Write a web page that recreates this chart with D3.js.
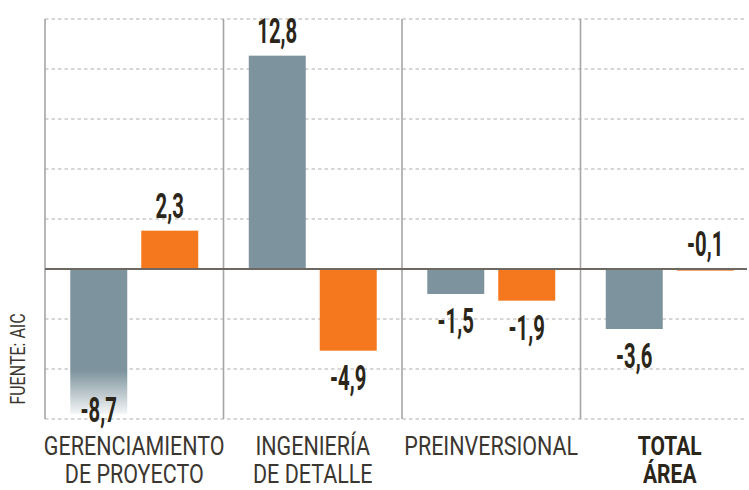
<!DOCTYPE html>
<html>
<head>
<meta charset="utf-8">
<script src="https://cdn.jsdelivr.net/npm/d3@7"></script>
<style>
body { margin: 0; background: #fff; }
</style>
</head>
<body>
<svg></svg>
<script>
const categories = ['GERENCIAMIENTO DE PROYECTO', 'INGENIERÍA DE DETALLE', 'PREINVERSIONAL', 'TOTAL ÁREA'];
const categoryLines = [['GERENCIAMIENTO', 'DE PROYECTO'], ['INGENIERÍA', 'DE DETALLE'], ['PREINVERSIONAL'], ['TOTAL', 'ÁREA']];
const seriesKeys = ['gris', 'naranja'];
const grayValues = [-8.7, 12.8, -1.5, -3.6];
const orangeValues = [2.3, -4.9, -1.9, -0.1];
const gridTicks = [-9, -6, -3, 3, 6, 9, 12, 15];
const source = 'FUENTE: AIC';

let width = 749;
let height = 490;

let xScale;
let innerScale;
let yScale;

let svg = d3.select('svg');

const colors = { gris: '#7d939d', naranja: '#f5781f' };

const rows = categories.map((c, i) => ({ cat: c, lines: categoryLines[i], gris: grayValues[i], naranja: orangeValues[i] }));

const drawCanvas = () => {
    svg.attr('width', width)
        .attr('height', height)
        .style('display', 'block');
}

const generateScales = () => {
    xScale = d3.scaleBand()
        .domain(categories)
        .range([45, 759]);

    innerScale = d3.scaleBand()
        .domain(seriesKeys)
        .range([0, xScale.bandwidth()])
        .paddingInner(0.197)
        .paddingOuter(0.356);

    yScale = d3.scaleLinear()
        .domain([-9, 15])
        .range([419, 19]);
}

const drawGrid = () => {
    svg.append('g')
        .selectAll('line')
        .data(gridTicks)
        .enter()
        .append('line')
        .attr('x1', 45)
        .attr('x2', width - 2)
        .attr('y1', d => yScale(d))
        .attr('y2', d => yScale(d))
        .attr('stroke', '#c9c9c9')
        .attr('stroke-width', 1.3)
        .attr('stroke-dasharray', '3.5,3');

    svg.append('g')
        .selectAll('line')
        .data(categories)
        .enter()
        .append('line')
        .attr('x1', d => xScale(d))
        .attr('x2', d => xScale(d))
        .attr('y1', yScale(15))
        .attr('y2', yScale(-9))
        .attr('stroke', '#a5a5a5')
        .attr('stroke-width', 1.6);
}

const drawBars = () => {
    // fade for the long gray bar at the bottom
    let grad = svg.append('defs')
        .append('linearGradient')
        .attr('id', 'fade')
        .attr('gradientUnits', 'userSpaceOnUse')
        .attr('x1', 0).attr('x2', 0)
        .attr('y1', yScale(-6.1))
        .attr('y2', yScale(-8.7));
    grad.append('stop').attr('offset', 0).attr('stop-color', colors.gris);
    grad.append('stop').attr('offset', 1).attr('stop-color', '#f4f6f7');

    let groups = svg.append('g')
        .selectAll('g')
        .data(rows)
        .enter()
        .append('g')
        .attr('transform', d => 'translate(' + xScale(d.cat) + ',0)');

    groups.selectAll('rect')
        .data(d => seriesKeys.map(k => ({ key: k, value: d[k] })))
        .enter()
        .append('rect')
        .attr('x', d => innerScale(d.key))
        .attr('width', innerScale.bandwidth())
        .attr('y', d => yScale(Math.max(0, d.value)))
        .attr('height', d => Math.abs(yScale(d.value) - yScale(0)))
        .attr('fill', d => d.key === 'gris' ? 'url(#fade)' : colors.naranja);

    svg.append('line')
        .attr('x1', 45)
        .attr('x2', width - 2)
        .attr('y1', yScale(0))
        .attr('y2', yScale(0))
        .attr('stroke', '#6d6862')
        .attr('stroke-width', 2);
}

const drawLabels = () => {
    let items = [];
    rows.forEach(r => {
        seriesKeys.forEach(k => items.push({ cat: r.cat, key: k, value: r[k] }));
    });

    svg.append('g')
        .selectAll('g')
        .data(items)
        .enter()
        .append('g')
        .attr('transform', d => {
            let cx = xScale(d.cat) + innerScale(d.key) + innerScale.bandwidth() / 2;
            let y;
            if (d.value > -0.5) {
                y = yScale(Math.max(0, d.value)) - 13;
            } else {
                y = Math.min(yScale(d.value) + 39, 422);
            }
            return 'translate(' + cx + ',' + y + ') scale(0.58,1)';
        })
        .append('text')
        .attr('text-anchor', 'middle')
        .attr('font-family', 'Roboto, sans-serif')
        .attr('font-weight', 'bold')
        .attr('font-size', 35)
        .attr('fill', '#2b2619')
        .text(d => d3.format('.1f')(d.value).replace('.', ',').replace('−', '-'));

    let cats = svg.append('g')
        .selectAll('g')
        .data(rows)
        .enter()
        .append('g')
        .attr('transform', d => 'translate(' + (xScale(d.cat) + xScale.bandwidth() / 2) + ',0)');

    cats.selectAll('g')
        .data(d => d.lines.map((l, i) => ({ text: l, i: i, bold: d.cat === 'TOTAL ÁREA' })))
        .enter()
        .append('g')
        .attr('transform', d => 'translate(0,' + (455 + d.i * 28) + ') scale(' + (d.bold ? 0.84 : 0.86) + ',1)')
        .append('text')
        .attr('text-anchor', 'middle')
        .attr('font-family', 'Roboto, sans-serif')
        .attr('font-size', 25)
        .attr('font-weight', d => d.bold ? 'bold' : 'normal')
        .attr('fill', d => d.bold ? '#2b2619' : '#3b3630')
        .text(d => d.text);

    svg.append('g')
        .attr('transform', 'translate(25,359) rotate(-90) scale(0.8,1)')
        .append('text')
        .attr('text-anchor', 'middle')
        .attr('font-family', 'Roboto, sans-serif')
        .attr('font-size', 20)
        .attr('fill', '#3b3630')
        .text(source);
}

drawCanvas();
generateScales();
drawGrid();
drawBars();
drawLabels();
</script>
</body>
</html>
